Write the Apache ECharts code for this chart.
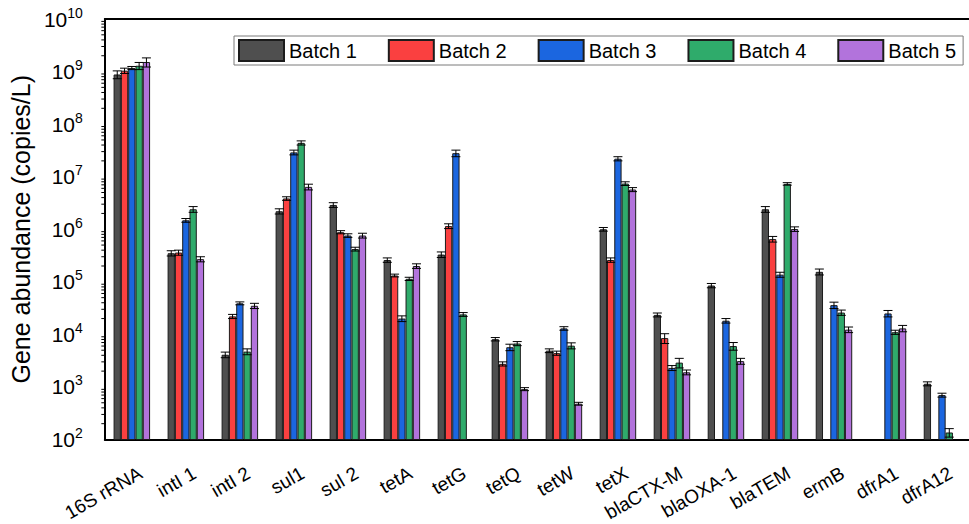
<!DOCTYPE html>
<html>
<head>
<meta charset="utf-8">
<script src="https://cdn.jsdelivr.net/npm/echarts@6/dist/echarts.min.js"></script>
<style>
  html, body { margin: 0; padding: 0; background: #fff; }
  #chart { width: 969px; height: 524px; }
</style>
</head>
<body>
<div id="chart"></div>
<script>
// Gene targets along the x axis
const categories = ['16S rRNA', 'intI 1', 'intI 2', 'sul1', 'sul 2', 'tetA', 'tetG', 'tetQ',
  'tetW', 'tetX', 'blaCTX-M', 'blaOXA-1', 'blaTEM', 'ermB', 'dfrA1', 'dfrA12'];

const batchNames = ['Batch 1', 'Batch 2', 'Batch 3', 'Batch 4', 'Batch 5'];

// Mean abundance (copies/L); null = not detected
const batch1 = [8.8e8, 3.5e5, 4.1e3, 2.2e6, 2.9e6, 2.6e5, 3.3e5, 8.1e3, 4.9e3, 1.0e6, 2.35e4, 8.5e4, 2.4e6, 1.55e5, null, 1.15e3];
const batch2 = [1.04e9, 3.6e5, 2.2e4, 3.85e6, 8.8e5, 1.32e5, 1.15e6, 2.75e3, 4.4e3, 2.6e5, 8.5e3, null, 6.5e5, null, null, null];
const batch3 = [1.17e9, 1.48e6, 3.9e4, 2.9e7, 7.6e5, 2.0e4, 2.8e7, 5.7e3, 1.3e4, 2.2e7, 2.3e3, 1.82e4, 1.37e5, 3.6e4, 2.5e4, 7.0e2];
const batch4 = [1.29e9, 2.4e6, 4.7e3, 4.4e7, 4.2e5, 1.14e5, 2.4e4, 6.7e3, 6.1e3, 7.4e6, 2.9e3, 6.0e3, 7.3e6, 2.6e4, 1.1e4, 1.36e2];
const batch5 = [1.52e9, 2.7e5, 3.5e4, 6.4e6, 7.6e5, 2.0e5, null, 9.1e2, 4.8e2, 5.7e6, 1.9e3, 3.1e3, 1.01e6, 1.23e4, 1.3e4, null];

// Standard deviations (copies/L)
const err1 = [1.5e8, 4e4, 5e2, 2.5e5, 3e5, 2.5e4, 4e4, 6e2, 4e2, 8e4, 2e3, 8e3, 3e5, 2e4, null, 1e2];
const err2 = [1.2e8, 4e4, 2e3, 3e5, 6e4, 8e3, 1.2e5, 2.5e2, 4e2, 2.5e4, 1.8e3, null, 8e4, null, null, null];
const err3 = [8e7, 1.2e5, 2.5e3, 3e6, 6e4, 2.5e3, 4e6, 8e2, 1e3, 2e6, 2.5e2, 1.8e3, 1.5e4, 5e3, 3.5e3, 6e1];
const err4 = [2e8, 3e5, 6e2, 4e6, 3.5e4, 8e3, 2e3, 6e2, 8e2, 6e5, 6e2, 1e3, 4e5, 3e3, 1e3, 2.5e1];
const err5 = [3e8, 3e4, 4e3, 8e5, 8e4, 2e4, null, 6e1, 3e1, 5e5, 2e2, 4e2, 1e5, 1.5e3, 1.8e3, null];

const batchColors = ['#4f4f4f', '#fa4040', '#1b66e0', '#2fab6b', '#b273dc'];

const means = [batch1, batch2, batch3, batch4, batch5];
const errors = [err1, err2, err3, err4, err5];

const BAR_WIDTH = 7.3;
const CAP_HALF = 4.5;
const FONT = '"Liberation Sans", Arial, sans-serif';

// Decade minor ticks for the log axis (2..9 x 10^n)
const minorTickValues = [];
for (let e = 2; e < 10; e++) {
  for (let k = 2; k <= 9; k++) minorTickValues.push(k * Math.pow(10, e));
}

const barSeries = means.map((vals, i) => ({
  name: batchNames[i],
  type: 'bar',
  xAxisIndex: 0,
  barWidth: BAR_WIDTH,
  barGap: '0%',
  itemStyle: { color: batchColors[i], borderColor: '#1c1c1c', borderWidth: 1 },
  emphasis: { disabled: true },
  data: vals
}));

const errorSeries = means.map((vals, i) => {
  const data = [];
  vals.forEach((v, c) => {
    if (v != null && errors[i][c] != null) data.push([c, v - errors[i][c], v + errors[i][c]]);
  });
  const shift = (i - (means.length - 1) / 2) * BAR_WIDTH;
  return {
    name: 'sd' + (i + 1),
    type: 'custom',
    xAxisIndex: 0,
    z: 5,
    silent: true,
    data: data,
    renderItem: function (params, api) {
      const c = api.value(0);
      const hi = api.coord([c, api.value(2)]);
      const lo = api.coord([c, api.value(1)]);
      const x = hi[0] + shift;
      const style = { stroke: '#000', lineWidth: 1 };
      return {
        type: 'group',
        children: [
          { type: 'line', shape: { x1: x, y1: hi[1], x2: x, y2: lo[1] }, style: style },
          { type: 'line', shape: { x1: x - CAP_HALF, y1: hi[1], x2: x + CAP_HALF, y2: hi[1] }, style: style },
          { type: 'line', shape: { x1: x - CAP_HALF, y1: lo[1], x2: x + CAP_HALF, y2: lo[1] }, style: style }
        ]
      };
    }
  };
});

const minorTickSeries = {
  name: 'minorTicks',
  type: 'custom',
  xAxisIndex: 0,
  silent: true,
  clip: false,
  data: minorTickValues.map(v => [0, v]),
  renderItem: function (params, api) {
    const p = api.coord([0, api.value(1)]);
    const left = p[0] - api.size([1, 0])[0] / 2;
    return {
      type: 'line',
      shape: { x1: left - 3.5, y1: p[1], x2: left, y2: p[1] },
      style: { stroke: '#000', lineWidth: 1 }
    };
  }
};

const chart = echarts.init(document.getElementById('chart'), null, { renderer: 'svg' });

chart.setOption({
  animation: false,
  backgroundColor: '#fff',
  textStyle: { fontFamily: FONT },
  grid: { left: 102, top: 19, right: -8, bottom: 81 },
  legend: {
    data: batchNames,
    left: 234,
    top: 36,
    orient: 'horizontal',
    itemWidth: 45,
    itemHeight: 21,
    itemGap: 31,
    padding: [3, 7, 3, 4],
    borderColor: '#7a7a7a',
    borderWidth: 1,
    backgroundColor: '#fff',
    icon: 'rect',
    selectedMode: false,
    textStyle: { fontSize: 20, color: '#000', fontFamily: FONT }
  },
  xAxis: [
    {
      type: 'category',
      position: 'bottom',
      data: categories,
      axisLine: { lineStyle: { color: '#000', width: 2 } },
      axisTick: { alignWithLabel: true, length: 8, lineStyle: { color: '#000', width: 1.5 } },
      axisLabel: {
        rotate: 30,
        interval: 0,
        margin: 37,
        padding: [0, -10, 0, 0],
        fontSize: 19,
        color: '#000',
        fontFamily: FONT
      },
      splitLine: { show: false }
    },
    {
      type: 'category',
      position: 'bottom',
      data: categories,
      axisLine: { show: false },
      axisTick: { length: 4, lineStyle: { color: '#000', width: 1.5 } },
      axisLabel: { show: false },
      splitLine: { show: false }
    },
    {
      type: 'category',
      position: 'top',
      data: categories,
      axisLine: { lineStyle: { color: '#000', width: 2 } },
      axisTick: { show: false },
      axisLabel: { show: false },
      splitLine: { show: false }
    }
  ],
  yAxis: {
    type: 'log',
    logBase: 10,
    min: 1e2,
    max: 1e10,
    splitNumber: 8,
    name: 'Gene abundance (copies/L)',
    nameLocation: 'middle',
    nameGap: 64,
    nameTextStyle: { fontSize: 25, color: '#000', fontFamily: FONT },
    axisLine: { show: true, lineStyle: { color: '#000', width: 2 } },
    axisTick: { length: 6, lineStyle: { color: '#000', width: 1.5 } },
    splitLine: { show: false },
    axisLabel: {
      margin: 22,
      color: '#000',
      formatter: function (v) {
        const e = Math.round(Math.log10(v));
        return '{b|10}{s|' + e + '}';
      },
      rich: {
        b: { fontSize: 21, lineHeight: 27, fontFamily: FONT, color: '#000' },
        s: { fontSize: 14, lineHeight: 14, verticalAlign: 'top', fontFamily: FONT, color: '#000' }
      }
    }
  },
  series: barSeries.concat(errorSeries, [minorTickSeries])
});
</script>
</body>
</html>
